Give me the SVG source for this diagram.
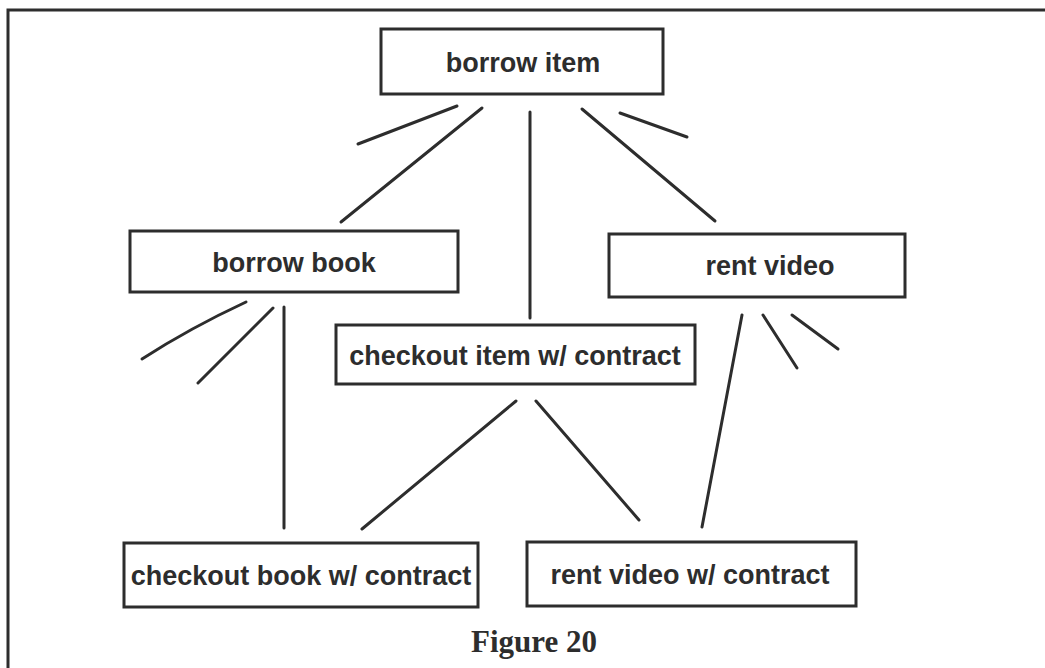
<svg xmlns="http://www.w3.org/2000/svg" width="1045" height="668" viewBox="0 0 1045 668">
  <style>
    .frame { stroke: #2d2d2d; stroke-width: 3; fill: none; }
    .box { fill: #fff; stroke: #2d2d2d; stroke-width: 3; }
    .label { font-family: "Liberation Sans", Arial, sans-serif; font-weight: bold; font-size: 27px; fill: #2d2d2d; text-anchor: middle; }
    .link { stroke: #2d2d2d; stroke-width: 3; stroke-linecap: round; fill: none; }
    .caption { font-family: "Liberation Serif", "Times New Roman", serif; font-weight: bold; font-size: 31px; fill: #2d2d2d; text-anchor: middle; }
  </style>
  <rect width="1045" height="668" fill="#fff"/>

  <!-- page frame: top and left rules -->
  <path class="frame" d="M8,668 V10 H1045"/>

  <!-- connectors -->
  <g id="connectors">
    <line class="link" x1="457" y1="106" x2="358" y2="144"/>
    <line class="link" x1="482" y1="108" x2="341" y2="222"/>
    <line class="link" x1="530" y1="112" x2="530" y2="318"/>
    <line class="link" x1="582" y1="109" x2="715" y2="221"/>
    <line class="link" x1="620" y1="113" x2="687" y2="137"/>

    <path class="link" d="M246,302 Q190,328 142,359"/>
    <line class="link" x1="273" y1="308" x2="198" y2="383"/>
    <line class="link" x1="284" y1="307" x2="284" y2="528"/>

    <line class="link" x1="516" y1="401" x2="362" y2="529"/>
    <line class="link" x1="536" y1="401" x2="639" y2="520"/>

    <line class="link" x1="742" y1="315" x2="702" y2="527"/>
    <line class="link" x1="763" y1="315" x2="797" y2="368"/>
    <line class="link" x1="792" y1="315" x2="838" y2="349"/>
  </g>

  <g id="borrow-item">
    <rect class="box" x="381" y="29" width="282" height="65"/>
    <text class="label" x="523" y="72">borrow item</text>
  </g>

  <g id="borrow-book">
    <rect class="box" x="130" y="231" width="328" height="61"/>
    <text class="label" x="294" y="272">borrow book</text>
  </g>

  <g id="rent-video">
    <rect class="box" x="609" y="234" width="296" height="63"/>
    <text class="label" x="770" y="275">rent video</text>
  </g>

  <g id="checkout-item">
    <rect class="box" x="336" y="325" width="359" height="59"/>
    <text class="label" x="515" y="365">checkout item w/ contract</text>
  </g>

  <g id="checkout-book">
    <rect class="box" x="124" y="543" width="354" height="64"/>
    <text class="label" x="301" y="585">checkout book w/ contract</text>
  </g>

  <g id="rent-video-contract">
    <rect class="box" x="527" y="542" width="329" height="64"/>
    <text class="label" x="690" y="584">rent video w/ contract</text>
  </g>

  <text class="caption" x="534" y="652">Figure 20</text>
</svg>
